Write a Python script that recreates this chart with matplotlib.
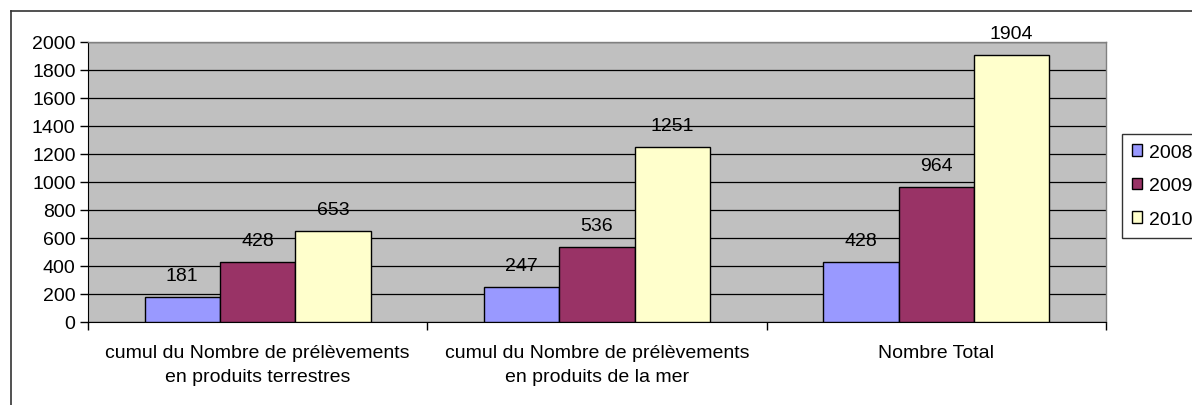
import matplotlib

matplotlib.use("Agg")
import matplotlib.pyplot as plt
import numpy as np
from matplotlib.lines import Line2D

plt.rcParams["font.family"] = ["Liberation Sans", "DejaVu Sans"]

categories = [
    "cumul du Nombre de prélèvements\nen produits terrestres",
    "cumul du Nombre de prélèvements\nen produits de la mer",
    "Nombre Total",
]
years = ["2008", "2009", "2010"]
values_2008 = [181, 247, 428]
values_2009 = [428, 536, 964]
values_2010 = [653, 1251, 1904]
yticks = [0, 200, 400, 600, 800, 1000, 1200, 1400, 1600, 1800, 2000]

series = [values_2008, values_2009, values_2010]
colors = ["#9999FF", "#993366", "#FFFFCC"]
FS = 14

W, H = 1192, 406
fig = plt.figure(figsize=(W / 100, H / 100), dpi=100)
fig.patch.set_facecolor("white")

# plot area in pixels: x 88..1106, y 43..323
ax = fig.add_axes([88 / W, 1 - 323 / H, (1106 - 88) / W, (323 - 43) / H])
ax.set_facecolor("#C0C0C0")

x = np.arange(len(categories))
bw = 1 / 4.5  # Excel gap width 150%
for i, (vals, col, yr) in enumerate(zip(series, colors, years)):
    pos = x + (i - 1) * bw
    bars = ax.bar(pos, vals, width=bw, color=col, edgecolor="black",
                  linewidth=1.0, label=yr, zorder=3)
    for b, v in zip(bars, vals):
        ax.annotate(str(v), (b.get_x() + b.get_width() / 2, v),
                    xytext=(0, 13), textcoords="offset pixels",
                    ha="center", va="bottom", fontsize=FS, color="black")

ax.set_xlim(-0.5, len(categories) - 0.5)
ax.set_ylim(0, 2000)
ax.set_yticks(yticks)
ax.set_yticklabels([str(t) for t in yticks], fontsize=FS)
ax.yaxis.grid(True, color="black", linewidth=0.9, zorder=1)
ax.set_axisbelow(True)

ax.set_xticks(x)
ax.set_xticklabels(categories, fontsize=FS, linespacing=1.5)
ax.tick_params(axis="x", length=0, pad=16)
ax.set_xticks(np.arange(len(categories) + 1) - 0.5, minor=True)
ax.tick_params(axis="x", which="minor", length=6, width=1, color="black", direction="out")
ax.tick_params(axis="y", length=6, width=1, color="black", direction="out", pad=3)

for side in ["top", "right"]:
    ax.spines[side].set_color("#808080")
    ax.spines[side].set_linewidth(1)
ax.spines["left"].set_color("black")
ax.spines["bottom"].set_color("black")

leg = fig.legend(loc="upper left", bbox_to_anchor=(1122 / W, 1 - 135 / H),
                 fontsize=FS, frameon=True, fancybox=False, edgecolor="black",
                 handlelength=0.55, handleheight=0.55, handletextpad=0.35,
                 labelspacing=0.85, borderpad=0.5, borderaxespad=0)
leg.get_frame().set_linewidth(1)

# chart border (left and top visible)
fig.add_artist(Line2D([11 / W, 11 / W], [0, 1 - 12 / H], color="#333333", linewidth=1.2))
fig.add_artist(Line2D([11 / W, 1], [1 - 12 / H, 1 - 12 / H], color="#333333", linewidth=1.2))

fig.savefig("out.png", dpi=100, facecolor="white")
